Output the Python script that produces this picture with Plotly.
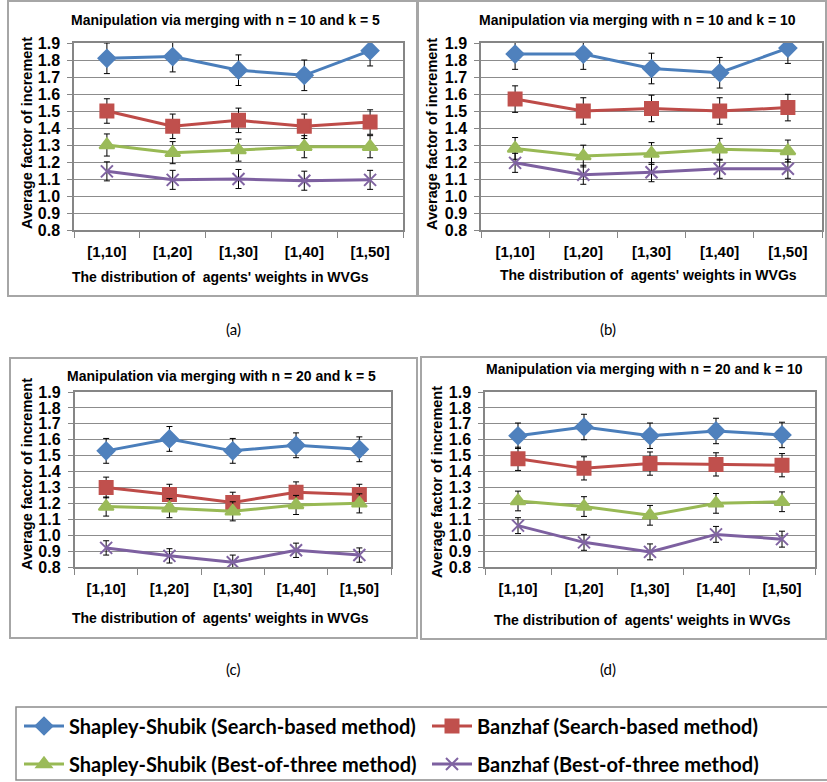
import plotly.graph_objects as go

W, H = 827, 782

categories = ["[1,10]", "[1,20]", "[1,30]", "[1,40]", "[1,50]"]
series_names = [
    "Shapley-Shubik (Search-based method)",
    "Banzhaf (Search-based method)",
    "Shapley-Shubik (Best-of-three method)",
    "Banzhaf (Best-of-three method)",
]

# Panel (a): n = 10, k = 5
a_ss_search = [1.81, 1.82, 1.74, 1.71, 1.855]
a_bz_search = [1.50, 1.41, 1.445, 1.41, 1.435]
a_ss_best3 = [1.30, 1.255, 1.27, 1.29, 1.29]
a_bz_best3 = [1.145, 1.095, 1.10, 1.09, 1.095]
a_err = [[0.09] * 5, [0.072] * 5, [0.065] * 5, [0.056] * 5]

# Panel (b): n = 10, k = 10
b_ss_search = [1.835, 1.835, 1.75, 1.725, 1.87]
b_bz_search = [1.57, 1.50, 1.515, 1.50, 1.52]
b_ss_best3 = [1.28, 1.235, 1.25, 1.275, 1.265]
b_bz_best3 = [1.195, 1.125, 1.14, 1.16, 1.16]
b_err = [[0.09] * 5, [0.078] * 5, [0.064] * 5, [0.056] * 5]

# Panel (c): n = 20, k = 5
c_ss_search = [1.53, 1.605, 1.53, 1.565, 1.54]
c_bz_search = [1.30, 1.255, 1.205, 1.27, 1.255]
c_ss_best3 = [1.18, 1.17, 1.15, 1.19, 1.20]
c_bz_best3 = [0.92, 0.87, 0.83, 0.905, 0.875]
c_err = [[0.078] * 5, [0.065] * 5, [0.06] * 5, [0.045] * 5]

# Panel (d): n = 20, k = 10
d_ss_search = [1.625, 1.68, 1.625, 1.655, 1.63]
d_bz_search = [1.48, 1.42, 1.45, 1.445, 1.44]
d_ss_best3 = [1.215, 1.18, 1.125, 1.20, 1.21]
d_bz_best3 = [1.06, 0.955, 0.895, 1.005, 0.975]
d_err = [[0.08] * 5, [0.073] * 5, [0.062] * 5, [0.05] * 5]

panel_titles = [
    "Manipulation via merging with n = 10 and k = 5",
    "Manipulation via merging with n = 10 and k = 10",
    "Manipulation via merging with n = 20 and k = 5",
    "Manipulation via merging with n = 20 and k = 10",
]
panel_labels = ["(a)", "(b)", "(c)", "(d)"]
y_title = "Average factor of increment"
x_title = "The distribution of  agents' weights in WVGs"

line_colors = ["#4A7EBB", "#BE4B48", "#98B954", "#7D60A0"]
marker_colors = ["#4F81BD", "#C0504D", "#9BBB59", "#8064A2"]
symbols = ["diamond", "square", "triangle-up", "x-thin-open"]
msizes = [13, 13, 13, 12]


def px(x):
    return x / W


def py(y):
    return 1 - y / H


# layout geometry in pixels: (left, right, top, bottom)
plot_boxes = [
    (74, 403, 43, 230),
    (481, 822, 43, 230),
    (74.5, 391, 392, 567),
    (485, 815, 392, 567),
]
panel_frames = [
    (8, 417, 1, 296),
    (418, 826, 1, 296),
    (10, 417, 358, 638),
    (421, 826, 357, 639),
]
title_pos = [(225, 20), (637, 20), (221, 376), (644, 369)]
ytitle_pos = [(27, 133), (432, 134), (27, 474), (437, 482)]
xtitle_pos = [(220, 277), (648, 275), (220, 618), (642, 620)]
label_pos = [(233, 329), (608, 329), (233, 669), (608, 669)]
legend_pos = [(19, 726), (427, 726), (19, 764), (427, 764)]
legend_ids = ["legend", "legend2", "legend3", "legend4"]

panels = [
    ([a_ss_search, a_bz_search, a_ss_best3, a_bz_best3], a_err),
    ([b_ss_search, b_bz_search, b_ss_best3, b_bz_best3], b_err),
    ([c_ss_search, c_bz_search, c_ss_best3, c_bz_best3], c_err),
    ([d_ss_search, d_bz_search, d_ss_best3, d_bz_best3], d_err),
]

xpos = list(range(len(categories)))

fig = go.Figure()
ARIAL = "Liberation Sans"

for p, (series, errs) in enumerate(panels):
    xa = "x" if p == 0 else f"x{p + 1}"
    ya = "y" if p == 0 else f"y{p + 1}"
    for s in range(4):
        fig.add_trace(go.Scatter(
            x=xpos, y=series[s], xaxis=xa, yaxis=ya,
            mode="lines+markers",
            name=series_names[s],
            showlegend=(p == 0),
            legend=legend_ids[s],
            line=dict(color=line_colors[s], width=3),
            marker=dict(symbol=symbols[s], size=msizes[s], color=marker_colors[s],
                        line=dict(color=marker_colors[s], width=2)),
            error_y=dict(type="data", array=errs[s], visible=True,
                         color="#000000", thickness=1, width=3),
            hoverinfo="skip",
        ))

layout = dict(
    width=W, height=H,
    margin=dict(l=0, r=0, t=0, b=0, autoexpand=False),
    paper_bgcolor="white", plot_bgcolor="white",
    showlegend=True,
)

for p in range(4):
    l, r, t, b = plot_boxes[p]
    xk = "xaxis" if p == 0 else f"xaxis{p + 1}"
    yk = "yaxis" if p == 0 else f"yaxis{p + 1}"
    ya = "y" if p == 0 else f"y{p + 1}"
    xa = "x" if p == 0 else f"x{p + 1}"
    layout[xk] = dict(
        domain=[px(l), px(r)], anchor=ya, range=[-0.5, 4.5],
        tickmode="array", tickvals=xpos, ticktext=categories,
        ticks="", showgrid=False, zeroline=False,
        ticklabelstandoff=7,
        showline=True, linecolor="#868686", linewidth=1.5, mirror=True,
        minor=dict(tick0=-0.5, dtick=1, ticks="outside", ticklen=6,
                   tickcolor="#868686", showgrid=False),
        tickfont=dict(family=ARIAL, size=15, color="#000000", weight="bold"),
        fixedrange=True, automargin=False,
    )
    layout[yk] = dict(
        domain=[py(b), py(t)], anchor=xa, range=[0.8, 1.9],
        tick0=0.8, dtick=0.1, tickformat=".1f",
        ticks="outside", ticklen=5, tickcolor="#868686",
        ticklabelstandoff=4,
        showgrid=True, gridcolor="#8C8C8C", gridwidth=1, zeroline=False,
        showline=True, linecolor="#868686", linewidth=1.5, mirror=True,
        tickfont=dict(family=ARIAL, size=16, color="#000000", weight="bold"),
        fixedrange=True, automargin=False,
    )

annotations = []
shapes = []
for p in range(4):
    tx, ty = title_pos[p]
    annotations.append(dict(x=px(tx), y=py(ty), xref="paper", yref="paper",
                            text=panel_titles[p], showarrow=False,
                            xanchor="center", yanchor="middle",
                            font=dict(family=ARIAL, size=14, color="#000000", weight="bold")))
    yx, yy = ytitle_pos[p]
    annotations.append(dict(x=px(yx), y=py(yy), xref="paper", yref="paper",
                            text=y_title, showarrow=False, textangle=-90,
                            xanchor="center", yanchor="middle",
                            font=dict(family=ARIAL, size=14.5, color="#000000", weight="bold")))
    xx, xy = xtitle_pos[p]
    annotations.append(dict(x=px(xx), y=py(xy), xref="paper", yref="paper",
                            text=x_title, showarrow=False,
                            xanchor="center", yanchor="middle",
                            font=dict(family=ARIAL, size=14, color="#000000", weight="bold")))
    lx, ly = label_pos[p]
    annotations.append(dict(x=px(lx), y=py(ly), xref="paper", yref="paper",
                            text=panel_labels[p], showarrow=False,
                            xanchor="center", yanchor="middle",
                            font=dict(family="Lato", size=15, color="#000000")))
    fl, fr, ft, fb = panel_frames[p]
    shapes.append(dict(type="rect", xref="paper", yref="paper",
                       x0=px(fl), x1=px(fr), y0=py(fb), y1=py(ft),
                       line=dict(color="#A6A6A6", width=2), fillcolor="rgba(0,0,0,0)",
                       layer="below"))

# legend frame
shapes.append(dict(type="rect", xref="paper", yref="paper",
                   x0=px(16), x1=px(830), y0=py(780), y1=py(707),
                   line=dict(color="#8C8C8C", width=1.5), fillcolor="rgba(0,0,0,0)",
                   layer="below"))

layout["annotations"] = annotations
layout["shapes"] = shapes

legend_font = dict(family="Lato", size=20, color="#000000", weight="bold")
for lid, (lx, ly) in zip(legend_ids, legend_pos):
    layout[lid] = dict(
        orientation="h", x=px(lx), y=py(ly), xanchor="left", yanchor="middle",
        font=legend_font, bgcolor="rgba(0,0,0,0)", borderwidth=0,
        itemwidth=40, itemclick=False, itemdoubleclick=False,
    )

fig.update_layout(**layout)
fig.write_html("out.html", config={"displayModeBar": False},
               post_script="document.body.style.margin='0';")
